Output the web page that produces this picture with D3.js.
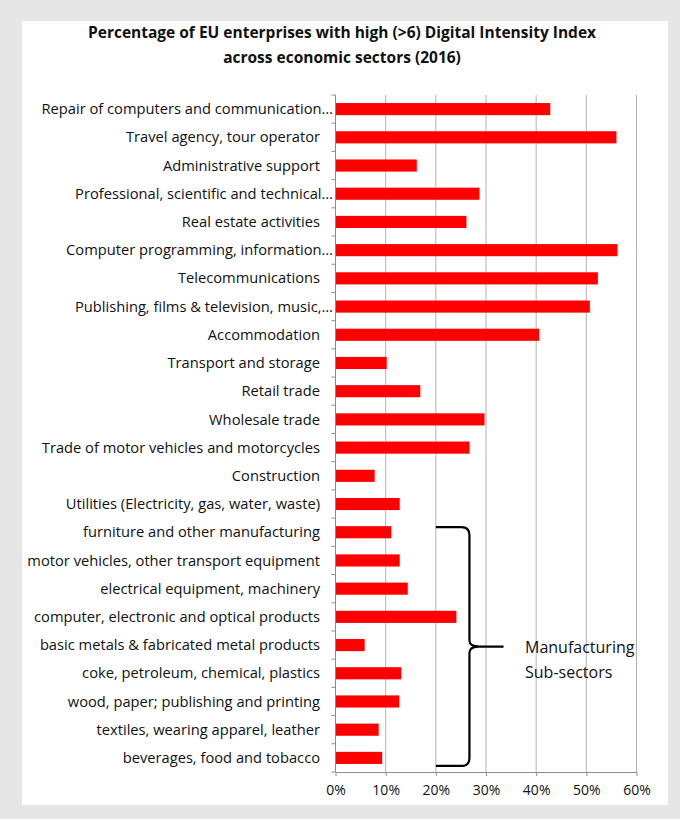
<!DOCTYPE html>
<html>
<head>
<meta charset="utf-8">
<script src="https://cdn.jsdelivr.net/npm/d3@7.9.0/dist/d3.min.js"></script>
<style>
  html, body { margin: 0; padding: 0; background: #e6e6e6; }
  svg { display: block; font-family: "Open Sans", sans-serif; }
</style>
</head>
<body>
<svg width="680" height="819"></svg>
<script>
// sectors, top to bottom as in the picture
const sectors = [
  "Repair of computers and communication…",
  "Travel agency, tour operator",
  "Administrative support",
  "Professional, scientific and technical…",
  "Real estate activities",
  "Computer programming, information…",
  "Telecommunications",
  "Publishing, films & television, music,…",
  "Accommodation",
  "Transport and storage",
  "Retail trade",
  "Wholesale trade",
  "Trade of motor vehicles and motorcycles",
  "Construction",
  "Utilities (Electricity, gas, water, waste)",
  "furniture and other manufacturing",
  "motor vehicles, other transport equipment",
  "electrical equipment, machinery",
  "computer, electronic and optical products",
  "basic metals & fabricated metal products",
  "coke, petroleum, chemical, plastics",
  "wood, paper; publishing and printing",
  "textiles, wearing apparel, leather",
  "beverages, food and tobacco"
];
// share of enterprises with high DII
const shares = [
  0.428, 0.560, 0.162, 0.287, 0.261, 0.562, 0.523, 0.507, 0.406, 0.102, 0.169, 0.297,
  0.267, 0.078, 0.128, 0.111, 0.128, 0.144, 0.241, 0.058, 0.131, 0.127, 0.086, 0.093
];
const xTicks = [0, 0.1, 0.2, 0.3, 0.4, 0.5, 0.6];
const manufacturing = sectors.slice(15);
const titleLines = [
  "Percentage of EU enterprises with high (>6) Digital Intensity Index",
  "across economic sectors (2016)"
];

const svg = d3.select("svg");

// white panel
svg.append("rect").attr("x", 22).attr("y", 21).attr("width", 646).attr("height", 784).attr("fill", "#fff");

svg.append("g").selectAll("text").data(titleLines).join("text")
  .attr("x", 342).attr("y", (d, i) => 38 + i * 25)
  .attr("text-anchor", "middle")
  .attr("font-size", 15.5).attr("font-weight", "bold").attr("fill", "#111")
  .text(d => d);

const x = d3.scaleLinear().domain([0, 0.6]).range([335.5, 636.5]);
const y = d3.scaleBand().domain(sectors).range([95, 772]).paddingInner(0.57).paddingOuter(0.285);

// grid
svg.append("g").selectAll("line").data(xTicks.slice(1)).join("line")
  .attr("x1", d => x(d)).attr("x2", d => x(d))
  .attr("y1", 95).attr("y2", 772)
  .attr("stroke", "#b3b3b3").attr("stroke-width", 1);

// bars
svg.append("g").selectAll("rect").data(sectors).join("rect")
  .attr("x", x(0))
  .attr("y", d => y(d))
  .attr("width", (d, i) => x(shares[i]) - x(0))
  .attr("height", y.bandwidth())
  .attr("fill", "#ff0000");

// y axis: line + ticks at band boundaries
const bounds = sectors.map(d => y(d) - y.step() * y.paddingInner() / 2).concat([772]);
const yAxis = svg.append("g");
yAxis.append("line").attr("x1", x(0)).attr("x2", x(0)).attr("y1", 95).attr("y2", 772)
  .attr("stroke", "#8c8c8c");
yAxis.selectAll("line.tick").data(bounds).join("line").attr("class", "tick")
  .attr("x1", x(0) - 4).attr("x2", x(0)).attr("y1", d => d).attr("y2", d => d)
  .attr("stroke", "#8c8c8c");
yAxis.selectAll("text").data(sectors).join("text")
  .attr("x", d => d.endsWith("…") ? 333 : 320)
  .attr("y", d => y(d) + y.bandwidth() / 2)
  .attr("dy", "0.35em")
  .attr("text-anchor", "end")
  .attr("font-size", 14.7).attr("fill", "#111")
  .text(d => d);

// x axis
const xAxis = svg.append("g").attr("transform", "translate(0,772)")
  .call(d3.axisBottom(x).tickValues(xTicks).tickFormat(d3.format(".0%")).tickSize(4).tickSizeOuter(0));
xAxis.select(".domain").attr("stroke", "#8c8c8c");
xAxis.selectAll(".tick line").attr("stroke", "#8c8c8c");
xAxis.selectAll(".tick text").attr("font-size", 14).attr("fill", "#111")
  .attr("font-family", "Open Sans, sans-serif").attr("y", 18).attr("dy", "0.35em");

// brace for manufacturing sub-sectors
const bTop = y(manufacturing[0]) + 1;
const bBot = y(manufacturing[manufacturing.length - 1]) + y.bandwidth() + 2;
const bMid = (bTop + bBot) / 2;
const bx0 = x(0.2), bx1 = x(0.267), bx2 = x(0.335);
const p = d3.path();
p.moveTo(bx0, bTop);
p.lineTo(bx1 - 8, bTop);
p.quadraticCurveTo(bx1, bTop, bx1, bTop + 8);
p.lineTo(bx1, bMid - 6);
p.quadraticCurveTo(bx1, bMid, bx1 + 10, bMid);
p.lineTo(bx2, bMid);
p.moveTo(bx1 + 10, bMid);
p.quadraticCurveTo(bx1, bMid, bx1, bMid + 6);
p.lineTo(bx1, bBot - 8);
p.quadraticCurveTo(bx1, bBot, bx1 - 8, bBot);
p.lineTo(bx0, bBot);
svg.append("path").attr("d", p.toString()).attr("fill", "none")
  .attr("stroke", "#000").attr("stroke-width", 2.2);

svg.append("g").selectAll("text").data(["Manufacturing", "Sub-sectors"]).join("text")
  .attr("x", 525).attr("y", (d, i) => bMid + 6 + i * 25)
  .attr("font-size", 16).attr("fill", "#111")
  .text(d => d);
</script>
</body>
</html>
